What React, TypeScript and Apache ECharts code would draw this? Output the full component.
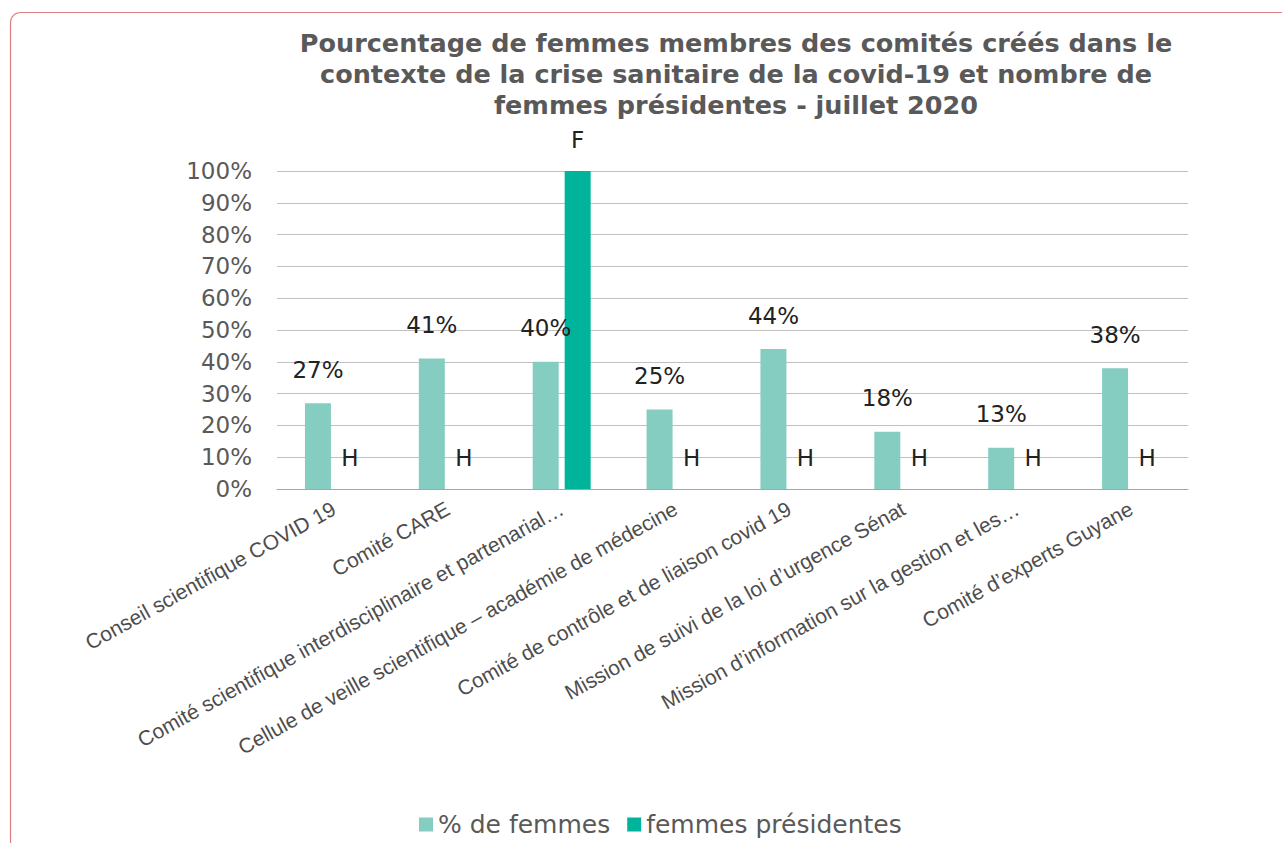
import React, { useEffect, useRef } from "react";
import * as echarts from "echarts";

const categories = [
  "Conseil scientifique COVID 19",
  "Comité CARE",
  "Comité scientifique interdisciplinaire et partenarial…",
  "Cellule de veille scientifique – académie de médecine",
  "Comité de contrôle et de liaison covid 19",
  "Mission de suivi de la loi d’urgence Sénat",
  "Mission d’information sur la gestion et les…",
  "Comité d’experts Guyane",
];
const pctWomen = [27, 41, 40, 25, 44, 18, 13, 38];
const womenPresidents = [0, 0, 100, 0, 0, 0, 0, 0];
const presidentLabels = ["H", "H", "F", "H", "H", "H", "H", "H"];
const yTicks = [0, 10, 20, 30, 40, 50, 60, 70, 80, 90, 100];

const TITLE =
  "Pourcentage de femmes membres des comités créés dans le\ncontexte de la crise sanitaire de la covid-19 et nombre de\nfemmes présidentes - juillet 2020";

const FONT = "DejaVu Sans";

export default function App() {
  const ref = useRef<HTMLDivElement>(null);
  useEffect(() => {
    if (!ref.current) return;
    const chart = echarts.init(ref.current, undefined, { renderer: "svg" });
    chart.setOption({
      animation: false,
      backgroundColor: "#ffffff",
      title: {
        text: TITLE,
        left: 731,
        top: 22,
        textAlign: "center",
        textStyle: {
          fontFamily: FONT,
          fontWeight: "bold",
          fontSize: 25.5,
          lineHeight: 31,
          color: "#595959",
        },
      },
      graphic: [
        {
          type: "rect",
          shape: { x: 10.5, y: 12.5, width: 1320, height: 900, r: 10 },
          style: { fill: "none", stroke: "#dd7f82", lineWidth: 1.2 },
          silent: true,
        },
      ],
      legend: {
        bottom: 1,
        left: 414,
        itemWidth: 14,
        itemHeight: 14,
        itemGap: 17,
        icon: "rect",
        textStyle: { fontFamily: FONT, fontSize: 25, color: "#595959" },
        data: ["% de femmes", "femmes présidentes"],
      },
      grid: { left: 277, right: 94, top: 171, bottom: 354 },
      xAxis: {
        type: "category",
        data: categories,
        axisTick: { show: false },
        axisLine: { lineStyle: { color: "#a6a6a6" } },
        axisLabel: {
          rotate: 29,
          interval: 0,
          fontFamily: "Liberation Sans",
          fontSize: 21,
          color: "#4d4d4d",
          margin: 18,
        },
      },
      yAxis: {
        type: "value",
        min: yTicks[0],
        max: yTicks[yTicks.length - 1],
        interval: 10,
        axisLine: { show: false },
        axisTick: { show: false },
        splitLine: { lineStyle: { color: "#c0c0c0", width: 1 } },
        axisLabel: {
          formatter: (v: number) => `${v}%`,
          fontFamily: FONT,
          fontSize: 23,
          color: "#595959",
          margin: 25,
        },
      },
      series: [
        {
          name: "% de femmes",
          type: "bar",
          data: pctWomen,
          barWidth: 26,
          barGap: "23%",
          itemStyle: { color: "#85cdc0" },
          label: {
            show: true,
            position: "top",
            distance: 22,
            formatter: (p: any) => `${p.value}%`,
            fontFamily: FONT,
            fontSize: 23,
            color: "#222222",
          },
        },
        {
          name: "femmes présidentes",
          type: "bar",
          data: womenPresidents,
          barWidth: 26,
          itemStyle: { color: "#00b49c" },
          label: {
            show: true,
            position: "top",
            distance: 20,
            formatter: (p: any) => presidentLabels[p.dataIndex],
            fontFamily: FONT,
            fontSize: 23,
            color: "#222222",
          },
        },
      ],
    });
    return () => chart.dispose();
  }, []);
  return (
    <div
      ref={ref}
      style={{ position: "fixed", left: 0, top: 0, width: 1282, height: 843 }}
    />
  );
}
